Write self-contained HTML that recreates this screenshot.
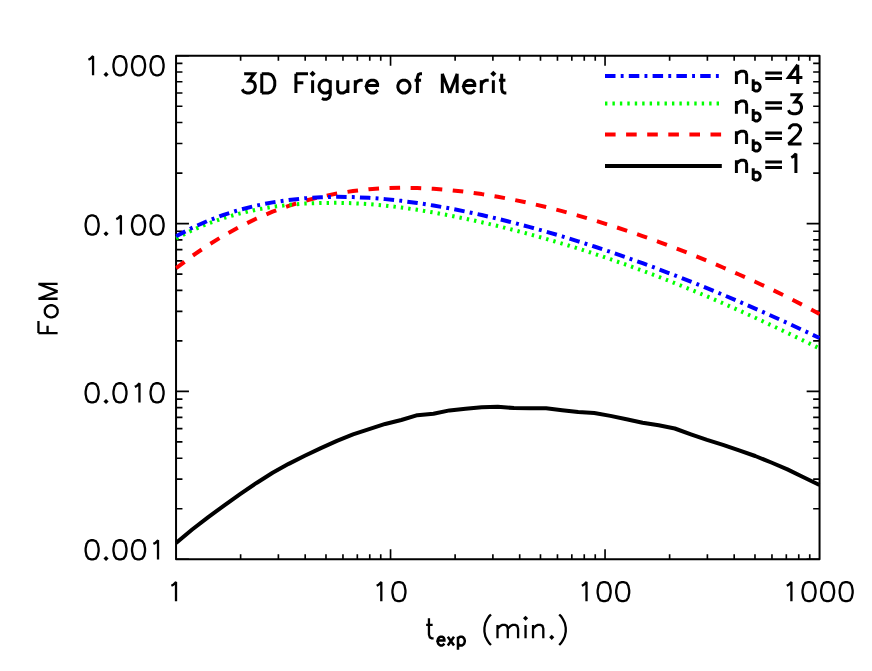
<!DOCTYPE html>
<html><head><meta charset="utf-8"><title>3D Figure of Merit</title>
<style>html,body{margin:0;padding:0;background:#fff;font-family:"Liberation Sans",sans-serif}svg{display:block}</style>
</head><body>
<svg width="872" height="671" viewBox="0 0 872 671">
<rect width="872" height="671" fill="#fff"/>
<path d="M176.05,55.75H819.55V559.25H176.05Z" fill="none" stroke="#000" stroke-width="2" stroke-linejoin="round"/>
<path d="M240.62,559.25v-5M240.62,55.75v5M278.39,559.25v-5M278.39,55.75v5M305.19,559.25v-5M305.19,55.75v5M325.98,559.25v-5M325.98,55.75v5M342.96,559.25v-5M342.96,55.75v5M357.32,559.25v-5M357.32,55.75v5M369.76,559.25v-5M369.76,55.75v5M380.74,559.25v-5M380.74,55.75v5M390.55,559.25v-10.1M390.55,55.75v10.1M455.12,559.25v-5M455.12,55.75v5M492.89,559.25v-5M492.89,55.75v5M519.69,559.25v-5M519.69,55.75v5M540.48,559.25v-5M540.48,55.75v5M557.46,559.25v-5M557.46,55.75v5M571.82,559.25v-5M571.82,55.75v5M584.26,559.25v-5M584.26,55.75v5M595.24,559.25v-5M595.24,55.75v5M605.05,559.25v-10.1M605.05,55.75v10.1M669.62,559.25v-5M669.62,55.75v5M707.39,559.25v-5M707.39,55.75v5M734.19,559.25v-5M734.19,55.75v5M754.98,559.25v-5M754.98,55.75v5M771.96,559.25v-5M771.96,55.75v5M786.32,559.25v-5M786.32,55.75v5M798.76,559.25v-5M798.76,55.75v5M809.74,559.25v-5M809.74,55.75v5M176.05,55.75h12.9M819.55,55.75h-12.9M176.05,173.06h6.4M819.55,173.06h-6.4M176.05,143.51h6.4M819.55,143.51h-6.4M176.05,122.54h6.4M819.55,122.54h-6.4M176.05,106.27h6.4M819.55,106.27h-6.4M176.05,92.98h6.4M819.55,92.98h-6.4M176.05,81.75h6.4M819.55,81.75h-6.4M176.05,72.01h6.4M819.55,72.01h-6.4M176.05,63.43h6.4M819.55,63.43h-6.4M176.05,223.58h12.9M819.55,223.58h-12.9M176.05,340.89h6.4M819.55,340.89h-6.4M176.05,311.34h6.4M819.55,311.34h-6.4M176.05,290.37h6.4M819.55,290.37h-6.4M176.05,274.11h6.4M819.55,274.11h-6.4M176.05,260.82h6.4M819.55,260.82h-6.4M176.05,249.58h6.4M819.55,249.58h-6.4M176.05,239.85h6.4M819.55,239.85h-6.4M176.05,231.26h6.4M819.55,231.26h-6.4M176.05,391.42h12.9M819.55,391.42h-12.9M176.05,508.73h6.4M819.55,508.73h-6.4M176.05,479.17h6.4M819.55,479.17h-6.4M176.05,458.2h6.4M819.55,458.2h-6.4M176.05,441.94h6.4M819.55,441.94h-6.4M176.05,428.65h6.4M819.55,428.65h-6.4M176.05,417.41h6.4M819.55,417.41h-6.4M176.05,407.68h6.4M819.55,407.68h-6.4M176.05,399.1h6.4M819.55,399.1h-6.4M176.05,559.25h12.9M819.55,559.25h-12.9" fill="none" stroke="#000" stroke-width="1.65" stroke-linecap="butt"/>
<defs><clipPath id="c"><rect x="175.35" y="55.05" width="644.9" height="504.9"/></clipPath></defs>
<g clip-path="url(#c)" fill="none" stroke-width="4" stroke-linejoin="round">
<path d="M176.1,542.87L192.19,529.52 208.27,517.1 224.35,505.34 240.44,493.98 256.52,482.96 272.61,472.78 288.69,463.85 304.78,455.77 320.87,448.09 336.95,440.89 353.03,434.33 369.12,429.04 385.2,423.95 401.29,419.98 417.4,415.2 433.45,413.8 449.5,410.4 465.6,408.7 481.7,407.15 497.8,406.8 513.9,408.1 530,408.3 546.1,408.2 562.15,410.2 578.2,412 594.3,413 610.4,415.9 626.5,419.3 642.6,422.7 658.7,425.3 674.8,428.5 690.9,434.4 707,439.9 723,444.8 739.1,450.4 755.2,456 771.3,462.5 787.4,469.4 803.5,477.3 819.5,485" stroke="#000"/>
<path d="M176.1,268.23L192.19,256.02 208.27,245.01 224.35,235.16 240.44,226.4 256.52,218.55 272.61,211.7 288.69,205.82 304.78,200.89 320.87,196.82 336.95,193.56 353.03,191.03 369.12,189.24 385.2,188.2 401.29,187.81 417.38,188.02 433.46,188.79 449.54,190.08 465.63,191.86 481.72,194.1 497.8,196.77 513.88,199.82 529.97,203.25 546.05,207.02 562.14,211.12 578.23,215.59 594.31,220.34 610.39,225.34 626.48,230.59 642.56,236.09 658.65,241.84 674.73,247.82 690.82,254.06 706.91,260.6 722.99,267.48 739.08,274.47 755.16,281.71 771.25,289.27 787.33,297.15 803.41,305.4 819.5,314.03" stroke="#f00" stroke-dasharray="10.6 10.5"/>
<path d="M176.1,238.35L192.19,230.21 208.27,223.41 224.35,217.81 240.44,213.31 256.52,209.62 272.61,206.84 288.69,204.86 304.78,203.61 320.87,203.01 336.95,202.82 353.03,203.2 369.12,204.14 385.2,205.58 401.29,207.53 417.38,209.84 433.46,212.49 449.54,215.45 465.63,218.71 481.72,222.23 497.8,226.02 513.88,230.06 529.97,234.34 546.05,238.85 562.14,243.59 578.23,248.56 594.31,253.76 610.39,259.18 626.48,264.82 642.56,270.69 658.65,276.78 674.73,283.09 690.82,289.61 706.91,296.35 722.99,303.28 739.08,310.42 755.16,317.73 771.25,325.21 787.33,332.83 803.41,340.58 819.5,348.43" stroke="#0f0" stroke-dasharray="2.4 5.04"/>
<path d="M176.1,236.25L192.19,227.84 208.27,220.65 224.35,214.6 240.44,209.6 256.52,205.54 272.61,202.37 288.69,200 304.78,198.31 320.87,197.27 336.95,196.85 353.03,197.08 369.12,197.85 385.2,199.12 401.29,200.85 417.38,202.99 433.46,205.51 449.54,208.37 465.63,211.55 481.72,215.04 497.8,218.8 513.88,222.83 529.97,227.11 546.05,231.62 562.14,236.36 578.23,241.32 594.31,246.49 610.39,251.87 626.48,257.44 642.56,263.2 658.65,269.16 674.73,275.29 690.82,281.61 706.91,288.11 722.99,294.77 739.08,301.6 755.16,308.59 771.25,315.73 787.33,323.01 803.41,330.42 819.5,337.94" stroke="#00f" stroke-dasharray="10.5 5.2 2.9 5.2"/>
</g>
<path d="M605,76H721.8" stroke="#00f" stroke-width="4" fill="none" stroke-dasharray="10.5 5.2 2.9 5.2"/>
<path d="M605,103.4H721.8" stroke="#0f0" stroke-width="4" fill="none" stroke-dasharray="2.4 5.04"/>
<path d="M605,134.4H721.8" stroke="#f00" stroke-width="4" fill="none" stroke-dasharray="10.6 10.5"/>
<path d="M605,166.1H721.8" stroke="#000" stroke-width="4" fill="none"/>
<path d="M93.06,75.3L93.06,56.15 90.27,58.88 88.42,59.8M106.05,73.48L105.12,74.39 106.05,75.3 106.98,74.39ZM114.4,59.8L113.47,64.36 113.47,67.09 114.4,71.65 116.26,74.39 119.04,75.3 120.9,75.3 123.68,74.39 125.54,71.65 126.47,67.09 126.47,64.36 125.54,59.8 123.68,57.06 120.9,56.15 119.04,56.15 116.26,57.06ZM132.96,59.8L132.03,64.36 132.03,67.09 132.96,71.65 134.82,74.39 137.6,75.3 139.46,75.3 142.24,74.39 144.1,71.65 145.03,67.09 145.03,64.36 144.1,59.8 142.24,57.06 139.46,56.15 137.6,56.15 134.82,57.06ZM151.52,59.8L150.59,64.36 150.59,67.09 151.52,71.65 153.38,74.39 156.16,75.3 158.02,75.3 160.8,74.39 162.66,71.65 163.59,67.09 163.59,64.36 162.66,59.8 160.8,57.06 158.02,56.15 156.16,56.15 153.38,57.06ZM86.56,219.1L85.63,223.66 85.63,226.39 86.56,230.95 88.42,233.69 91.2,234.6 93.06,234.6 95.84,233.69 97.7,230.95 98.63,226.39 98.63,223.66 97.7,219.1 95.84,216.36 93.06,215.45 91.2,215.45 88.42,216.36ZM106.05,232.78L105.12,233.69 106.05,234.6 106.98,233.69ZM120.9,234.6L120.9,215.45 118.11,218.18 116.26,219.1M132.96,219.1L132.03,223.66 132.03,226.39 132.96,230.95 134.82,233.69 137.6,234.6 139.46,234.6 142.24,233.69 144.1,230.95 145.03,226.39 145.03,223.66 144.1,219.1 142.24,216.36 139.46,215.45 137.6,215.45 134.82,216.36ZM151.52,219.1L150.59,223.66 150.59,226.39 151.52,230.95 153.38,233.69 156.16,234.6 158.02,234.6 160.8,233.69 162.66,230.95 163.59,226.39 163.59,223.66 162.66,219.1 160.8,216.36 158.02,215.45 156.16,215.45 153.38,216.36ZM86.56,386.9L85.63,391.46 85.63,394.19 86.56,398.75 88.42,401.49 91.2,402.4 93.06,402.4 95.84,401.49 97.7,398.75 98.63,394.19 98.63,391.46 97.7,386.9 95.84,384.16 93.06,383.25 91.2,383.25 88.42,384.16ZM106.05,400.58L105.12,401.49 106.05,402.4 106.98,401.49ZM114.4,386.9L113.47,391.46 113.47,394.19 114.4,398.75 116.26,401.49 119.04,402.4 120.9,402.4 123.68,401.49 125.54,398.75 126.47,394.19 126.47,391.46 125.54,386.9 123.68,384.16 120.9,383.25 119.04,383.25 116.26,384.16ZM139.46,402.4L139.46,383.25 136.67,385.98 134.82,386.9M151.52,386.9L150.59,391.46 150.59,394.19 151.52,398.75 153.38,401.49 156.16,402.4 158.02,402.4 160.8,401.49 162.66,398.75 163.59,394.19 163.59,391.46 162.66,386.9 160.8,384.16 158.02,383.25 156.16,383.25 153.38,384.16ZM86.56,543.9L85.63,548.46 85.63,551.19 86.56,555.75 88.42,558.49 91.2,559.4 93.06,559.4 95.84,558.49 97.7,555.75 98.63,551.19 98.63,548.46 97.7,543.9 95.84,541.16 93.06,540.25 91.2,540.25 88.42,541.16ZM106.05,557.58L105.12,558.49 106.05,559.4 106.98,558.49ZM114.4,543.9L113.47,548.46 113.47,551.19 114.4,555.75 116.26,558.49 119.04,559.4 120.9,559.4 123.68,558.49 125.54,555.75 126.47,551.19 126.47,548.46 125.54,543.9 123.68,541.16 120.9,540.25 119.04,540.25 116.26,541.16ZM132.96,543.9L132.03,548.46 132.03,551.19 132.96,555.75 134.82,558.49 137.6,559.4 139.46,559.4 142.24,558.49 144.1,555.75 145.03,551.19 145.03,548.46 144.1,543.9 142.24,541.16 139.46,540.25 137.6,540.25 134.82,541.16ZM158.02,559.4L158.02,540.25 155.23,542.98 153.38,543.9M176.01,601.2L176.01,582.05 173.22,584.78 171.37,585.7M381.31,601.2L381.31,582.05 378.52,584.78 376.67,585.7M393.37,585.7L392.44,590.26 392.44,592.99 393.37,597.55 395.23,600.29 398.01,601.2 399.87,601.2 402.65,600.29 404.51,597.55 405.44,592.99 405.44,590.26 404.51,585.7 402.65,582.96 399.87,582.05 398.01,582.05 395.23,582.96ZM586.51,601.2L586.51,582.05 583.72,584.78 581.87,585.7M598.57,585.7L597.64,590.26 597.64,592.99 598.57,597.55 600.43,600.29 603.21,601.2 605.07,601.2 607.85,600.29 609.71,597.55 610.64,592.99 610.64,590.26 609.71,585.7 607.85,582.96 605.07,582.05 603.21,582.05 600.43,582.96ZM617.13,585.7L616.2,590.26 616.2,592.99 617.13,597.55 618.99,600.29 621.77,601.2 623.63,601.2 626.41,600.29 628.27,597.55 629.2,592.99 629.2,590.26 628.27,585.7 626.41,582.96 623.63,582.05 621.77,582.05 618.99,582.96ZM791.41,601.2L791.41,582.05 788.62,584.78 786.77,585.7M803.47,585.7L802.54,590.26 802.54,592.99 803.47,597.55 805.33,600.29 808.11,601.2 809.97,601.2 812.75,600.29 814.61,597.55 815.54,592.99 815.54,590.26 814.61,585.7 812.75,582.96 809.97,582.05 808.11,582.05 805.33,582.96ZM822.03,585.7L821.1,590.26 821.1,592.99 822.03,597.55 823.89,600.29 826.67,601.2 828.53,601.2 831.31,600.29 833.17,597.55 834.1,592.99 834.1,590.26 833.17,585.7 831.31,582.96 828.53,582.05 826.67,582.05 823.89,582.96ZM840.59,585.7L839.66,590.26 839.66,592.99 840.59,597.55 842.45,600.29 845.23,601.2 847.09,601.2 849.87,600.29 851.73,597.55 852.66,592.99 852.66,590.26 851.73,585.7 849.87,582.96 847.09,582.05 845.23,582.05 842.45,582.96Z" fill="none" stroke="#000" stroke-width="2.3" stroke-linecap="butt" stroke-linejoin="miter" stroke-miterlimit="2.5"/>
<path d="M428.94,618.25L428.94,634.48 429.87,637.35 431.72,638.3 433.58,638.3M426.16,624.93L432.65,624.93M490.98,614.43L489.11,616.34 487.24,619.2 485.37,623.02 484.44,627.8 484.44,631.62 485.37,636.39 487.24,640.21 489.11,643.07 490.98,644.98M497.52,624.93L497.52,638.3M507.8,638.3L507.8,628.75M518.08,638.3L518.08,628.75 517.15,625.89 515.28,624.93 512.47,624.93 510.6,625.89 507.8,628.75M497.52,628.75L500.32,625.89 502.19,624.93 505,624.93 506.87,625.89 507.8,628.75M525.56,624.93L525.56,638.3M525.56,617.29L524.62,618.25 525.56,619.2 526.49,618.25ZM533.03,624.93L533.03,638.3M543.31,638.3L543.31,628.75 542.38,625.89 540.51,624.93 537.7,624.93 535.84,625.89 533.03,628.75M551.72,636.39L550.79,637.35 551.72,638.3 552.66,637.35ZM559.2,614.43L561.07,616.34 562.94,619.2 564.8,623.02 565.74,627.8 565.74,631.62 564.8,636.39 562.94,640.21 561.07,643.07 559.2,644.98M38.45,333.09L57.6,333.09M38.45,333.09L38.45,321.02M47.57,333.09L47.57,325.66M47.57,316.38L50.3,317.31 52.13,317.31 54.86,316.38 56.69,314.53 57.6,312.67 57.6,309.89 56.69,308.03 54.86,306.18 52.13,305.25 50.3,305.25 47.57,306.18 45.74,308.03 44.83,309.89 44.83,312.67 45.74,314.53ZM38.45,298.75L57.6,298.75M38.45,298.75L57.6,291.33M38.45,283.9L57.6,291.33M38.45,283.9L57.6,283.9" fill="none" stroke="#000" stroke-width="2.3" stroke-linecap="butt" stroke-linejoin="miter" stroke-miterlimit="2.5"/>
<path d="M444.39,643.54L443.26,644.78 442.13,645.4 440.43,645.4 439.3,644.78 438.16,643.54 437.6,641.68 437.6,640.44M437.6,640.44L444.39,640.44 444.39,639.2 443.83,637.96 443.26,637.34 442.13,636.72 440.43,636.72 439.3,637.34 438.16,638.58ZM447.79,636.72L454.01,645.4M454.01,636.72L447.79,645.4M457.98,636.72L457.98,649.74M457.98,638.58L459.11,637.34 460.24,636.72 461.94,636.72 463.07,637.34 464.2,638.58 464.77,640.44 464.77,641.68 464.2,643.54 463.07,644.78 461.94,645.4 460.24,645.4 459.11,644.78 457.98,643.54" fill="none" stroke="#000" stroke-width="2.5" stroke-linecap="butt" stroke-linejoin="miter" stroke-miterlimit="2.5"/>
<path d="M244.14,73.75L254.35,73.75 248.78,81.04 251.56,81.04 253.42,81.96 254.35,82.87 255.28,85.6 255.28,87.43 254.35,90.16 252.49,91.99 249.71,92.9 246.92,92.9 244.14,91.99 243.21,91.08 242.28,89.25M261.77,73.75L261.77,92.9M261.77,73.75L268.27,73.75 271.05,74.66 272.91,76.48 273.84,78.31 274.76,81.04 274.76,85.6 273.84,88.34 272.91,90.16 271.05,91.99 268.27,92.9 261.77,92.9M295.91,73.75L295.91,92.9M295.91,73.75L307.98,73.75M295.91,82.87L303.34,82.87M312.62,80.13L312.62,92.9M312.62,72.84L311.69,73.75 312.62,74.66 313.54,73.75ZM330.25,80.13L330.25,94.72 329.32,97.46 328.39,98.37 326.54,99.28 323.75,99.28 321.9,98.37M330.25,82.87L328.39,81.04 326.54,80.13 323.75,80.13 321.9,81.04 320.04,82.87 319.11,85.6 319.11,87.43 320.04,90.16 321.9,91.99 323.75,92.9 326.54,92.9 328.39,91.99 330.25,90.16M347.88,80.13L347.88,92.9M337.67,80.13L337.67,89.25 338.6,91.99 340.46,92.9 343.24,92.9 345.1,91.99 347.88,89.25M355.3,80.13L355.3,92.9M355.3,85.6L356.23,82.87 358.09,81.04 359.94,80.13 362.73,80.13M377.58,90.16L375.72,91.99 373.86,92.9 371.08,92.9 369.22,91.99 367.37,90.16 366.44,87.43 366.44,85.6M366.44,85.6L377.58,85.6 377.58,83.78 376.65,81.96 375.72,81.04 373.86,80.13 371.08,80.13 369.22,81.04 367.37,82.87ZM398.81,82.87L397.88,85.6 397.88,87.43 398.81,90.16 400.67,91.99 402.52,92.9 405.31,92.9 407.16,91.99 409.02,90.16 409.95,87.43 409.95,85.6 409.02,82.87 407.16,81.04 405.31,80.13 402.52,80.13 400.67,81.04ZM417.37,92.9L417.37,77.4 418.3,74.66 420.16,73.75 422.01,73.75M414.59,80.13L421.08,80.13M442.31,73.75L442.31,92.9M442.31,73.75L449.74,92.9M457.16,73.75L449.74,92.9M457.16,73.75L457.16,92.9M474.79,90.16L472.94,91.99 471.08,92.9 468.3,92.9 466.44,91.99 464.58,90.16 463.66,87.43 463.66,85.6M463.66,85.6L474.79,85.6 474.79,83.78 473.86,81.96 472.94,81.04 471.08,80.13 468.3,80.13 466.44,81.04 464.58,82.87ZM481.29,80.13L481.29,92.9M481.29,85.6L482.22,82.87 484.07,81.04 485.93,80.13 488.71,80.13M493.35,80.13L493.35,92.9M493.35,72.84L492.42,73.75 493.35,74.66 494.28,73.75ZM501.7,73.75L501.7,89.25 502.63,91.99 504.49,92.9 506.34,92.9M498.92,80.13L505.42,80.13" fill="none" stroke="#000" stroke-width="3" stroke-linecap="butt" stroke-linejoin="miter" stroke-miterlimit="2.5"/>
<path d="M736.41,71.13L736.41,83.9M746.62,83.9L746.62,74.78 745.69,72.04 743.84,71.13 741.05,71.13 739.2,72.04 736.41,74.78M753.23,79.13L753.23,91M753.23,84.78L754.38,83.65 755.53,83.08 757.26,83.08 758.41,83.65 759.56,84.78 760.14,86.48 760.14,87.61 759.56,89.3 758.41,90.43 757.26,91 755.53,91 754.38,90.43 753.23,89.3M765.28,72.96L781.98,72.96M765.28,78.43L781.98,78.43M797.76,64.75L788.48,77.52 802.4,77.52M797.76,64.75L797.76,83.9M736.41,101.03L736.41,113.8M746.62,113.8L746.62,104.68 745.69,101.94 743.84,101.03 741.05,101.03 739.2,101.94 736.41,104.68M753.23,109.03L753.23,120.9M753.23,114.68L754.38,113.55 755.53,112.98 757.26,112.98 758.41,113.55 759.56,114.68 760.14,116.38 760.14,117.51 759.56,119.2 758.41,120.33 757.26,120.9 755.53,120.9 754.38,120.33 753.23,119.2M765.28,102.86L781.98,102.86M765.28,108.33L781.98,108.33M790.33,94.65L800.54,94.65 794.97,101.94 797.76,101.94 799.61,102.86 800.54,103.77 801.47,106.5 801.47,108.33 800.54,111.06 798.68,112.89 795.9,113.8 793.12,113.8 790.33,112.89 789.4,111.98 788.48,110.15M736.41,131.13L736.41,143.9M746.62,143.9L746.62,134.78 745.69,132.04 743.84,131.13 741.05,131.13 739.2,132.04 736.41,134.78M753.23,139.13L753.23,151M753.23,144.78L754.38,143.65 755.53,143.08 757.26,143.08 758.41,143.65 759.56,144.78 760.14,146.48 760.14,147.61 759.56,149.3 758.41,150.43 757.26,151 755.53,151 754.38,150.43 753.23,149.3M765.28,132.96L781.98,132.96M765.28,138.43L781.98,138.43M801.47,143.9L788.48,143.9 797.76,134.78 799.61,132.04 800.54,130.22 800.54,128.4 799.61,126.57 798.68,125.66 796.83,124.75 793.12,124.75 791.26,125.66 790.33,126.57 789.4,128.4 789.4,129.31M736.41,160.23L736.41,173M746.62,173L746.62,163.88 745.69,161.14 743.84,160.23 741.05,160.23 739.2,161.14 736.41,163.88M753.23,168.23L753.23,180.1M753.23,173.88L754.38,172.75 755.53,172.18 757.26,172.18 758.41,172.75 759.56,173.88 760.14,175.58 760.14,176.71 759.56,178.4 758.41,179.53 757.26,180.1 755.53,180.1 754.38,179.53 753.23,178.4M765.28,162.06L781.98,162.06M765.28,167.53L781.98,167.53M795.9,173L795.9,153.85 793.12,156.58 791.26,157.5" fill="none" stroke="#000" stroke-width="3" stroke-linecap="butt" stroke-linejoin="miter" stroke-miterlimit="2.5"/>
</svg>
</body></html>
